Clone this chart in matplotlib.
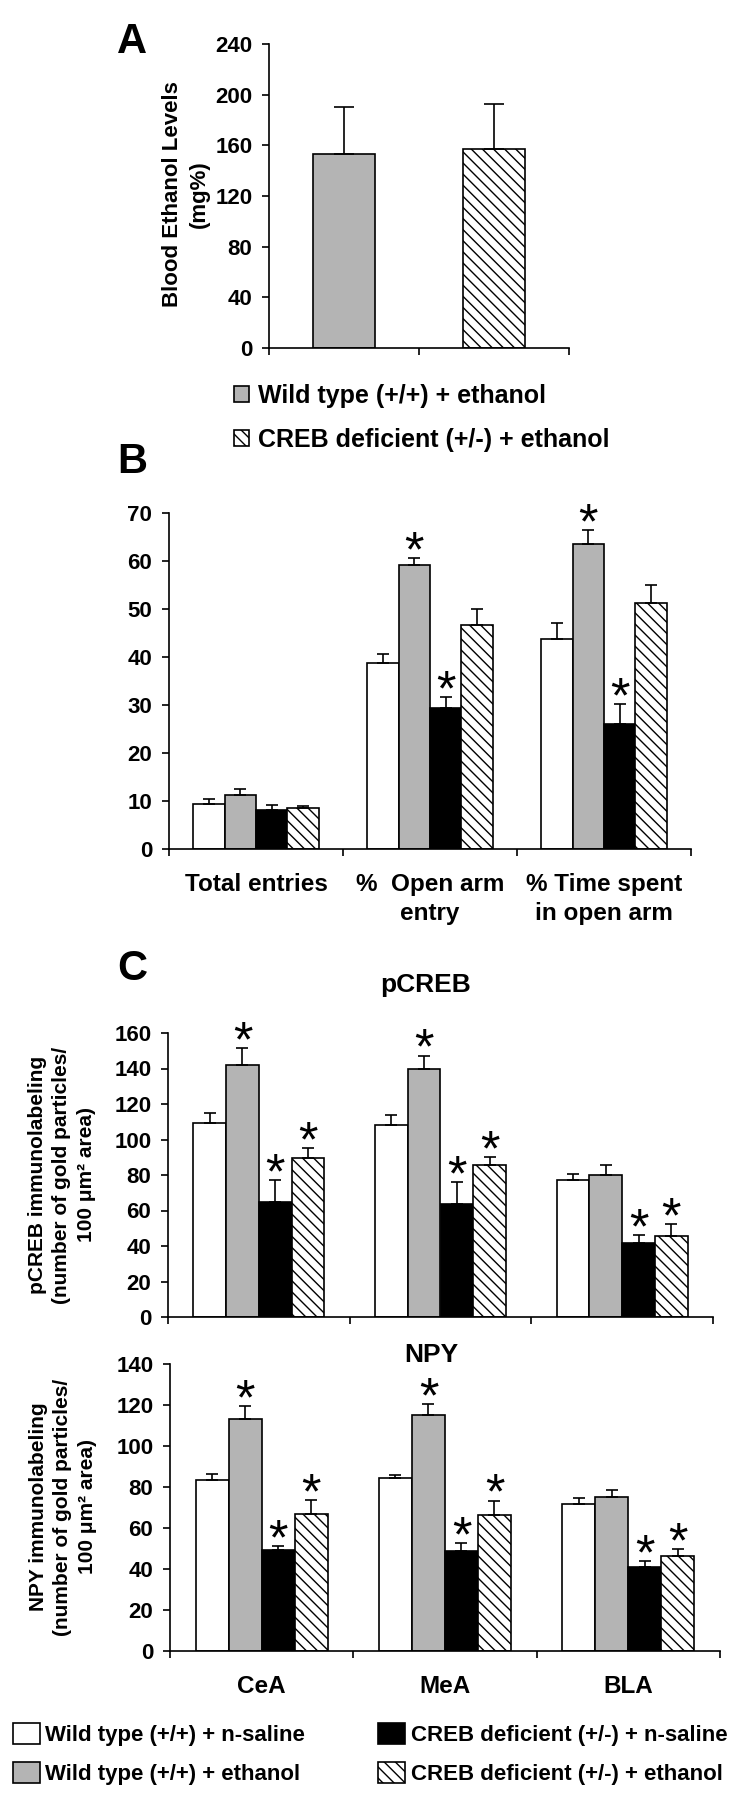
import numpy as np
import matplotlib
matplotlib.use('Agg')
import matplotlib.pyplot as plt
from matplotlib.patches import Patch

plt.rcParams['font.family'] = ['Liberation Sans', 'DejaVu Sans']
plt.rcParams['font.weight'] = 'bold'
plt.rcParams['hatch.linewidth'] = 1.0

W, H = 749, 1800
GRAY = '#b4b4b4'
HATCH = '\\\\\\'

# ---- data ----
a_labels = ['Wild type (+/+) + ethanol', 'CREB deficient (+/-) + ethanol']
a_mean = [153, 157]
a_err = [37, 36]

groups = ['Wild type (+/+) + n-saline', 'Wild type (+/+) + ethanol',
          'CREB deficient (+/-) + n-saline', 'CREB deficient (+/-) + ethanol']

b_cats = ['Total entries', '%  Open arm\nentry', '% Time spent\nin open arm']
b_mean = [[9.4, 38.8, 43.8], [11.3, 59.2, 63.5], [8.2, 29.3, 26.0], [8.5, 46.7, 51.2]]
b_err = [[0.95, 1.9, 3.2], [1.25, 1.5, 3.0], [0.9, 2.4, 4.3], [0.55, 3.2, 3.8]]
b_sig = [[0, 0, 0], [0, 1, 1], [0, 1, 1], [0, 0, 0]]

c_cats = ['CeA', 'MeA', 'BLA']
pcreb_mean = [[109.2, 107.9, 77.1], [142.2, 140.0, 79.9], [65.0, 63.9, 41.7], [89.5, 85.5, 45.7]]
pcreb_err = [[5.6, 5.8, 3.7], [9.4, 7.3, 5.6], [12.1, 12.2, 4.7], [5.6, 4.7, 6.9]]
npy_mean = [[83.5, 84.5, 71.9], [113.1, 115.2, 75.2], [49.4, 48.6, 40.9], [67.0, 66.2, 46.2]]
npy_err = [[2.6, 1.5, 2.8], [6.6, 5.1, 3.1], [2.0, 4.1, 2.8], [6.6, 7.2, 3.6]]
c_sig = [[0, 0, 0], [1, 1, 0], [1, 1, 1], [1, 1, 1]]

faces = ['white', GRAY, 'black', 'white']
hatches = [None, None, None, HATCH]

fig = plt.figure(figsize=(W / 100, H / 100), dpi=100)


def add_axes(l, t, r, b):
    return fig.add_axes([l / W, 1 - b / H, (r - l) / W, (b - t) / H])


def style(ax, n, ymax, step):
    for s in ('top', 'right'):
        ax.spines[s].set_visible(False)
    for s in ('left', 'bottom'):
        ax.spines[s].set_linewidth(1.2)
    ax.set_xlim(-0.5, n - 0.5)
    ax.set_ylim(0, ymax)
    ax.set_yticks(np.arange(0, ymax + 1, step))
    ax.set_xticks(np.arange(n + 1) - 0.5)
    ax.set_xticklabels([])
    ax.tick_params(axis='both', which='major', direction='out', length=5, width=1.2,
                   labelsize=16, pad=7)


def star(ax, x, y, dy=-6):
    ax.annotate('*', xy=(x, y), xytext=(0, dy), textcoords='offset points',
                ha='center', va='baseline', fontsize=36, fontweight='normal')


def grouped(ax, means, errs, sig, width=0.18, capsize=4.5):
    n = len(means[0])
    x = np.arange(n)
    for g in range(4):
        xs = x + (g - 1.5) * width
        m = np.array(means[g]); e = np.array(errs[g])
        ax.bar(xs, m, width, color=faces[g], edgecolor='black', linewidth=1.2,
               hatch=hatches[g], yerr=[np.zeros(n), e], capsize=capsize,
               error_kw=dict(elinewidth=1.2, capthick=1.2, ecolor='black'))
        for i in range(n):
            if sig[g][i]:
                star(ax, xs[i], m[i] + e[i])


def cat_labels(ax, cats, pad):
    ax.set_xticks(np.arange(len(cats)), minor=True)
    ax.set_xticklabels(cats, minor=True, fontsize=17.5, linespacing=1.35)
    ax.tick_params(axis='x', which='minor', length=0, pad=pad)


# ---- panel A ----
axA = add_axes(269, 44, 569, 348)
style(axA, 2, 240, 40)
axA.bar([0, 1], a_mean, 0.41, color=[GRAY, 'white'], edgecolor='black', linewidth=1.2,
        hatch=[None, HATCH], yerr=[[0, 0], a_err], capsize=7,
        error_kw=dict(elinewidth=1.2, capthick=1.2, ecolor='black'))
fig.text(186 / W, 1 - 194 / H, 'Blood Ethanol Levels\n(mg%)', rotation=90, ha='center',
         va='center', fontsize=16, linespacing=1.4, multialignment='center')
axA.legend(handles=[Patch(fc=GRAY, ec='black', lw=1.2),
                    Patch(fc='white', ec='black', lw=1.2, hatch=HATCH)],
           labels=a_labels, loc='upper left', bbox_to_anchor=(234 / W, 1 - 384 / H),
           bbox_transform=fig.transFigure, frameon=False, fontsize=18,
           handlelength=0.6, handleheight=0.6, handletextpad=0.35, labelspacing=0.8,
           borderpad=0, borderaxespad=0)

# ---- panel B ----
axB = add_axes(169, 513, 691, 849)
style(axB, 3, 70, 10)
grouped(axB, b_mean, b_err, b_sig)
cat_labels(axB, b_cats, 17)

# ---- panel C ----
axC1 = add_axes(168, 1033, 713, 1317)
style(axC1, 3, 160, 20)
grouped(axC1, pcreb_mean, pcreb_err, c_sig)
fig.text(426 / W, 1 - 992 / H, 'pCREB', fontsize=19, ha='center', va='baseline')
fig.text(62 / W, 1 - 1175 / H, 'pCREB immunolabeling\n(number of gold particles/\n100 μm² area)',
         rotation=90, ha='center', va='center', fontsize=15, linespacing=1.35,
         multialignment='center')

axC2 = add_axes(170, 1364, 720, 1651)
style(axC2, 3, 140, 20)
grouped(axC2, npy_mean, npy_err, c_sig)
cat_labels(axC2, c_cats, 17)
fig.text(431 / W, 1 - 1362 / H, 'NPY', fontsize=19, ha='center', va='baseline')
fig.text(63 / W, 1 - 1507 / H, 'NPY immunolabeling\n(number of gold particles/\n100 μm² area)',
         rotation=90, ha='center', va='center', fontsize=15, linespacing=1.35,
         multialignment='center')

axC2.legend(handles=[Patch(fc=f, ec='black', lw=1.2, hatch=h) for f, h in zip(faces, hatches)],
            labels=groups, ncol=2, loc='upper left', bbox_to_anchor=(13 / W, 1 - 1723 / H),
            bbox_transform=fig.transFigure, frameon=False, fontsize=16,
            handlelength=1.2, handleheight=1.1, handletextpad=0.25, columnspacing=3.3,
            labelspacing=0.7, borderpad=0, borderaxespad=0)

# panel letters
for lab, y in (('A', 53), ('B', 473), ('C', 980)):
    fig.text(132 / W, 1 - y / H, lab, fontsize=30, ha='center', va='baseline')

fig.savefig('out.png', dpi=100)
